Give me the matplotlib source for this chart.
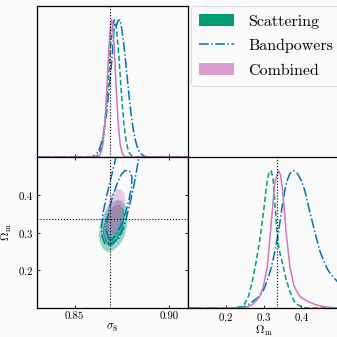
#!/usr/bin/env python3

# Corner plot: sigma_8 / Omega_m constraints for three analyses

import matplotlib
matplotlib.use("Agg")
import matplotlib.pyplot as plt
from matplotlib.patches import Patch
from matplotlib.lines import Line2D

params = {
    'font.family': 'cmr10',
    'mathtext.fontset': 'cm',
    'axes.formatter.use_mathtext': True,
    'axes.unicode_minus': False,
    'font.size': 8,
    'xtick.labelsize': 7.8,
    'ytick.labelsize': 7.8,
    'axes.labelsize': 8.5,
    'axes.linewidth': 0.9,
    'xtick.direction': 'in',
    'ytick.direction': 'in',
    'xtick.major.size': 2.5,
    'ytick.major.size': 2.5,
    'xtick.major.width': 0.6,
    'ytick.major.width': 0.6,
    'xtick.major.pad': 2.5,
    'ytick.major.pad': 2.5,
    'figure.facecolor': '#fafafa',
    'axes.facecolor': '#fafafa',
}
matplotlib.rcParams.update(params)

green = '#029e73'
blue = '#0173b2'
pink = '#cc78bc'

labels = ['Scattering', 'Bandpowers', 'Combined']

# fiducial values
sig8_true = 0.8688
om_true = 0.3358

# 1D marginals, sigma_8
s8_scat = [0.830, 0.861, 0.862, 0.863, 0.864, 0.865, 0.866, 0.867, 0.868, 0.869, 0.870,
           0.871, 0.872, 0.873, 0.874, 0.875, 0.876, 0.877, 0.878, 0.879, 0.880, 0.881, 0.910]
p_s8_scat = [0.0, 0.0, 0.011, 0.028, 0.066, 0.135, 0.249, 0.411, 0.607, 0.801, 0.946,
             1.0, 0.946, 0.801, 0.607, 0.411, 0.249, 0.135, 0.066, 0.028, 0.011, 0.0, 0.0]

s8_band = [0.830, 0.859, 0.860, 0.861, 0.862, 0.863, 0.864, 0.865, 0.866, 0.867, 0.868,
           0.869, 0.870, 0.871, 0.872, 0.873, 0.874, 0.875, 0.876, 0.877, 0.878, 0.879,
           0.880, 0.881, 0.882, 0.883, 0.884, 0.885, 0.886, 0.887, 0.888, 0.889, 0.910]
p_s8_band = [0.0, 0.0, 0.008, 0.017, 0.031, 0.056, 0.097, 0.155, 0.236, 0.340, 0.468,
             0.606, 0.760, 0.975, 0.955, 0.993, 1.0, 0.925, 0.820, 0.691, 0.552, 0.413,
             0.296, 0.201, 0.130, 0.078, 0.045, 0.025, 0.013, 0.006, 0.002, 0.0, 0.0]

s8_comb = [0.830, 0.862, 0.863, 0.864, 0.865, 0.866, 0.867, 0.868, 0.869, 0.8695, 0.870,
           0.871, 0.872, 0.873, 0.874, 0.875, 0.876, 0.877, 0.910]
p_s8_comb = [0.0, 0.0, 0.008, 0.032, 0.101, 0.249, 0.492, 0.775, 0.972, 1.0, 0.972,
             0.775, 0.492, 0.249, 0.101, 0.032, 0.008, 0.0, 0.0]

# 1D marginals, Omega_m
om_scat = [0.10, 0.22, 0.24, 0.25, 0.26, 0.27, 0.28, 0.29, 0.30, 0.305, 0.31, 0.315,
           0.32, 0.325, 0.33, 0.335, 0.34, 0.345, 0.35, 0.36, 0.37, 0.38, 0.39, 0.40,
           0.41, 0.42, 0.50]
p_om_scat = [0.0, 0.0, 0.01, 0.03, 0.085, 0.19, 0.33, 0.49, 0.70, 0.82, 0.93, 0.99,
             1.0, 0.95, 0.77, 0.58, 0.45, 0.38, 0.33, 0.21, 0.12, 0.055, 0.025, 0.01,
             0.003, 0.0, 0.0]

om_band = [0.10, 0.23, 0.25, 0.26, 0.27, 0.28, 0.29, 0.30, 0.31, 0.32, 0.33, 0.34,
           0.35, 0.36, 0.37, 0.38, 0.39, 0.40, 0.41, 0.42, 0.43, 0.44, 0.45, 0.46,
           0.47, 0.48, 0.49, 0.50]
p_om_band = [0.0, 0.0, 0.01, 0.025, 0.045, 0.065, 0.085, 0.13, 0.20, 0.29, 0.41, 0.56,
             0.75, 0.91, 0.98, 1.0, 0.98, 0.93, 0.85, 0.73, 0.62, 0.51, 0.41, 0.34,
             0.28, 0.24, 0.21, 0.18]

om_comb = [0.10, 0.24, 0.26, 0.27, 0.28, 0.29, 0.30, 0.31, 0.32, 0.33, 0.34, 0.345,
           0.35, 0.355, 0.36, 0.37, 0.38, 0.39, 0.40, 0.42, 0.44, 0.46, 0.48, 0.50]
p_om_comb = [0.0, 0.0, 0.01, 0.025, 0.05, 0.085, 0.16, 0.30, 0.60, 0.92, 1.0, 0.97,
             0.87, 0.72, 0.55, 0.30, 0.17, 0.11, 0.075, 0.045, 0.022, 0.01, 0.003, 0.0]

# 2D contours (sigma_8, Omega_m) outlines
scat95_s8 = [0.8671, 0.8647, 0.8631, 0.8628, 0.8636, 0.8652, 0.8676, 0.8703,
             0.8729, 0.8753, 0.8772, 0.8779, 0.8777, 0.8764, 0.8740, 0.8705]
scat95_om = [0.2483, 0.2589, 0.2775, 0.2987, 0.3225, 0.3464, 0.3675, 0.3821,
             0.3874, 0.3834, 0.3675, 0.3437, 0.3172, 0.2907, 0.2695, 0.2523]
scat68_s8 = [0.8681, 0.8663, 0.8652, 0.8655, 0.8668, 0.8687, 0.8711,
             0.8734, 0.8753, 0.8761, 0.8758, 0.8745, 0.8724, 0.8700]
scat68_om = [0.2656, 0.2775, 0.2960, 0.3172, 0.3384, 0.3570, 0.3689,
             0.3715, 0.3636, 0.3464, 0.3252, 0.3040, 0.2828, 0.2682]

band95_s8 = [0.8660, 0.8644, 0.8642, 0.8650, 0.8666, 0.8687, 0.8713, 0.8740, 0.8772,
             0.8814, 0.8851, 0.8862, 0.8846, 0.8830, 0.8811, 0.8787, 0.8761, 0.8734, 0.8697]
band95_om = [0.270, 0.291, 0.317, 0.352, 0.391, 0.434, 0.489, 0.545, 0.593,
             0.619, 0.611, 0.572, 0.519, 0.471, 0.418, 0.365, 0.315, 0.285, 0.270]
band68_s8 = [0.8679, 0.8668, 0.8671, 0.8684, 0.8703, 0.8724, 0.8745, 0.8766,
             0.8790, 0.8803, 0.8801, 0.8787, 0.8769, 0.8745, 0.8719, 0.8697]
band68_om = [0.2828, 0.3066, 0.3331, 0.3649, 0.3993, 0.4285, 0.4523, 0.4642,
             0.4629, 0.4470, 0.4205, 0.3861, 0.3517, 0.3199, 0.2934, 0.2815]

comb95_s8 = [0.8666, 0.8652, 0.8652, 0.8663, 0.8681, 0.8703, 0.8726,
             0.8748, 0.8764, 0.8769, 0.8764, 0.8748, 0.8721, 0.8692]
comb95_om = [0.2801, 0.2987, 0.3225, 0.3517, 0.3834, 0.4046, 0.4152,
             0.4139, 0.4020, 0.3781, 0.3490, 0.3199, 0.2934, 0.2775]
comb68_s8 = [0.8687, 0.8676, 0.8679, 0.8689, 0.8705, 0.8724,
             0.8740, 0.8748, 0.8742, 0.8729, 0.8711, 0.8697]
comb68_om = [0.2934, 0.3093, 0.3331, 0.3570, 0.3755, 0.3848,
             0.3821, 0.3675, 0.3437, 0.3199, 0.3013, 0.2920]

s8_lim = (0.83, 0.91)
om_lim = (0.1, 0.5)

fig = plt.figure(figsize=(3.37, 3.37), dpi=100)
W = 337.
size = 151. / W
ax_top = fig.add_axes([37 / W, 1 - 157 / W, size, size])
ax_2d = fig.add_axes([37 / W, 1 - 308 / W, size, size])
ax_om = fig.add_axes([188 / W, 1 - 308 / W, size, size])

# sigma_8 marginal
ax_top.plot(s8_scat, p_s8_scat, color=green, ls='--', lw=1.1, dashes=(3.5, 1.8))
ax_top.plot(s8_band, p_s8_band, color=blue, ls='-.', lw=1.1)
ax_top.plot(s8_comb, p_s8_comb, color=pink, ls='-', lw=1.1)
ax_top.axvline(sig8_true, color='k', ls=':', lw=0.8)
ax_top.set_xlim(s8_lim)
ax_top.set_ylim(0, 1.1)
ax_top.set_xticks([0.85, 0.90])
ax_top.set_xticklabels([])
ax_top.set_yticks([])

# Omega_m marginal
ax_om.plot(om_scat, p_om_scat, color=green, ls='--', lw=1.1, dashes=(3.5, 1.8))
ax_om.plot(om_band, p_om_band, color=blue, ls='-.', lw=1.1)
ax_om.plot(om_comb, p_om_comb, color=pink, ls='-', lw=1.1)
ax_om.axvline(om_true, color='k', ls=':', lw=0.8)
ax_om.set_xlim(om_lim)
ax_om.set_ylim(0, 1.1)
ax_om.set_xticks([0.2, 0.3, 0.4])
ax_om.set_yticks([])
ax_om.set_xlabel(r'$\Omega_{\rm m}$', labelpad=0.5)

# 2D
ax_2d.fill(scat95_s8, scat95_om, facecolor=green, alpha=0.4, edgecolor='none')
ax_2d.fill(scat68_s8, scat68_om, facecolor=green, alpha=0.6, edgecolor='none')
ax_2d.fill(scat68_s8, scat68_om, facecolor='none', edgecolor=green, lw=0.7)
ax_2d.fill(comb95_s8, comb95_om, facecolor=pink, alpha=0.35, edgecolor='none')
ax_2d.fill(comb68_s8, comb68_om, facecolor=pink, alpha=0.5, edgecolor='none')
ax_2d.fill(band95_s8, band95_om, facecolor='none', edgecolor=blue, ls='-.', lw=1.1)
ax_2d.fill(band68_s8, band68_om, facecolor='none', edgecolor=blue, ls='-.', lw=1.1)
ax_2d.axvline(sig8_true, color='k', ls=':', lw=0.8)
ax_2d.axhline(om_true, color='k', ls=':', lw=0.8)
ax_2d.set_xlim(s8_lim)
ax_2d.set_ylim(om_lim)
ax_2d.set_xticks([0.85, 0.90])
ax_2d.set_xticklabels(['0.85', '0.90'])
ax_2d.set_yticks([0.2, 0.3, 0.4])
ax_2d.tick_params(top=True, right=True)
ax_2d.set_xlabel(r'$\sigma_8$', labelpad=0.5)
ax_2d.set_ylabel(r'$\Omega_{\rm m}$', labelpad=3)

handles = [Patch(facecolor=green, edgecolor='none'),
           Line2D([], [], color=blue, ls='-.', lw=1.1),
           Patch(facecolor=pink, alpha=0.7, edgecolor='none')]
leg = fig.legend(handles, labels, loc='upper left',
                 bbox_to_anchor=(191 / W, 1 - 6 / W), fontsize=11.5,
                 frameon=True, fancybox=True, handlelength=2.2,
                 handleheight=0.8, handletextpad=0.9, labelspacing=0.62,
                 borderpad=0.5, borderaxespad=0.)
leg.get_frame().set_facecolor('#fbfbfb')
leg.get_frame().set_edgecolor('#d8d8d8')
leg.get_frame().set_linewidth(0.8)

plt.savefig('out.png', dpi=100, facecolor=fig.get_facecolor())
